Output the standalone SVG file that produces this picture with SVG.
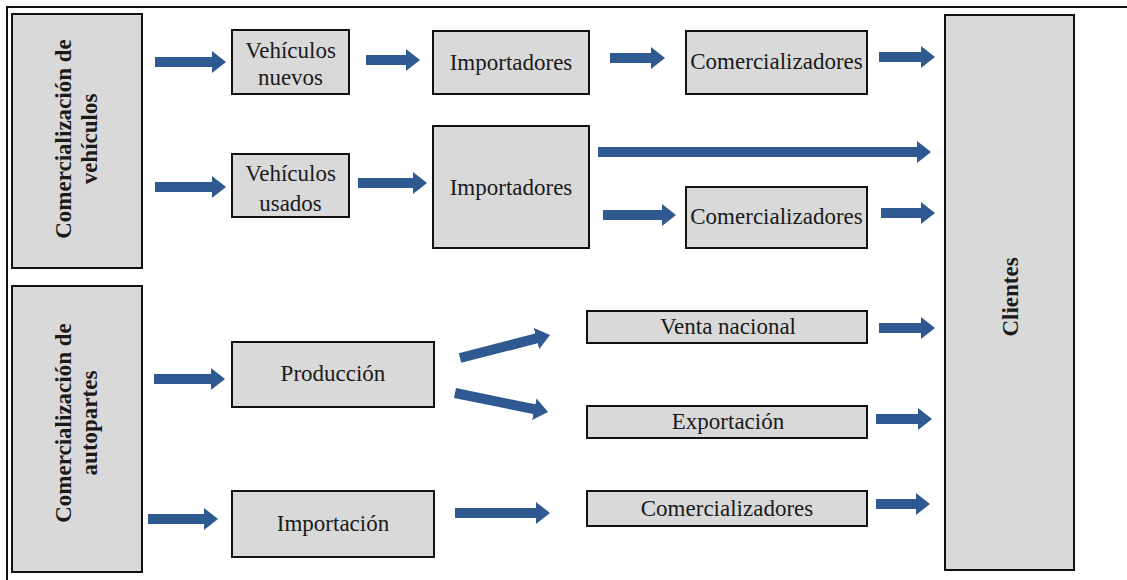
<svg xmlns="http://www.w3.org/2000/svg" width="1127" height="580" viewBox="0 0 1127 580">
  <defs>
    <style>
      .box { fill: #d9d9d9; stroke: #111; stroke-width: 2; }
      .lbl { font-family: "Liberation Serif", "Times New Roman", serif; font-size: 23px; fill: #1a1a1a; text-anchor: middle; }
      .vlbl { font-family: "Liberation Serif", "Times New Roman", serif; font-size: 23px; font-weight: bold; fill: #1a1a1a; text-anchor: middle; }
      .arrow { stroke: #2e5a91; stroke-width: 10; fill: none; marker-end: url(#head); }
      .frame { stroke: #111; stroke-width: 2; fill: none; }
    </style>
    <marker id="head" markerUnits="userSpaceOnUse" markerWidth="14" markerHeight="22" viewBox="0 0 14 22" refX="1" refY="11" orient="auto">
      <path d="M0,0 L14,11 L0,22 z" fill="#2e5a91"/>
    </marker>
  </defs>

  <rect width="1127" height="580" fill="#ffffff"/>

  <!-- outer frame (top and left edges) -->
  <path class="frame" d="M7,580 V7 H1127"/>

  <!-- left category boxes -->
  <g id="comercializacion-vehiculos">
    <rect class="box" x="12" y="14" width="130" height="254"/>
    <text class="vlbl" transform="translate(71,139) rotate(-90)">Comercialización de</text>
    <text class="vlbl" transform="translate(97,139) rotate(-90)">vehículos</text>
  </g>
  <g id="comercializacion-autopartes">
    <rect class="box" x="12" y="286" width="130" height="286"/>
    <text class="vlbl" transform="translate(71,423) rotate(-90)">Comercialización de</text>
    <text class="vlbl" transform="translate(97,423) rotate(-90)">autopartes</text>
  </g>

  <!-- vehicles branch -->
  <g id="vehiculos-nuevos">
    <rect class="box" x="232" y="30" width="117" height="64"/>
    <text class="lbl" x="290.5" y="58">Vehículos</text>
    <text class="lbl" x="290.5" y="85">nuevos</text>
  </g>
  <g id="vehiculos-usados">
    <rect class="box" x="232" y="154" width="117" height="63"/>
    <text class="lbl" x="290.5" y="181">Vehículos</text>
    <text class="lbl" x="290.5" y="211">usados</text>
  </g>
  <g id="importadores-1">
    <rect class="box" x="433" y="31" width="156" height="63"/>
    <text class="lbl" x="511" y="70">Importadores</text>
  </g>
  <g id="importadores-2">
    <rect class="box" x="433" y="126" width="156" height="122"/>
    <text class="lbl" x="511" y="195">Importadores</text>
  </g>
  <g id="comercializadores-1">
    <rect class="box" x="686" y="31" width="181" height="63"/>
    <text class="lbl" x="776.5" y="69">Comercializadores</text>
  </g>
  <g id="comercializadores-2">
    <rect class="box" x="686" y="187" width="181" height="61"/>
    <text class="lbl" x="776.5" y="224">Comercializadores</text>
  </g>

  <!-- auto parts branch -->
  <g id="produccion">
    <rect class="box" x="232" y="342" width="202" height="65"/>
    <text class="lbl" x="333" y="381">Producción</text>
  </g>
  <g id="importacion">
    <rect class="box" x="232" y="491" width="202" height="66"/>
    <text class="lbl" x="333" y="531">Importación</text>
  </g>
  <g id="venta-nacional">
    <rect class="box" x="587" y="311" width="280" height="32"/>
    <text class="lbl" x="728" y="334">Venta nacional</text>
  </g>
  <g id="exportacion">
    <rect class="box" x="587" y="406" width="280" height="32"/>
    <text class="lbl" x="728" y="429">Exportación</text>
  </g>
  <g id="comercializadores-3">
    <rect class="box" x="587" y="491" width="280" height="35"/>
    <text class="lbl" x="727" y="516">Comercializadores</text>
  </g>

  <!-- final destination -->
  <g id="clientes">
    <rect class="box" x="945" y="15" width="129" height="555"/>
    <text class="vlbl" font-size="25" transform="translate(1018,297) rotate(-90)">Clientes</text>
  </g>

  <!-- block arrows -->
  <g id="connectors">
    <line class="arrow" x1="155" y1="62" x2="213" y2="62"/>
    <line class="arrow" x1="155" y1="187" x2="213" y2="187"/>
    <line class="arrow" x1="366" y1="60" x2="407" y2="60"/>
    <line class="arrow" x1="358" y1="183" x2="414" y2="183"/>
    <line class="arrow" x1="610" y1="58" x2="652" y2="58"/>
    <line class="arrow" x1="598" y1="152" x2="918" y2="152" stroke-width="11"/>
    <line class="arrow" x1="603" y1="215" x2="663" y2="215"/>
    <line class="arrow" x1="879" y1="57" x2="922" y2="57"/>
    <line class="arrow" x1="881" y1="213" x2="922" y2="213"/>
    <line class="arrow" x1="879" y1="328" x2="922" y2="328"/>
    <line class="arrow" x1="876" y1="419" x2="919" y2="419"/>
    <line class="arrow" x1="876" y1="504" x2="917" y2="504"/>
    <line class="arrow" x1="154" y1="379" x2="212" y2="379"/>
    <line class="arrow" x1="148" y1="519" x2="205" y2="519"/>
    <line class="arrow" x1="455" y1="513" x2="537" y2="513"/>
    <line class="arrow" x1="460" y1="358" x2="537.4" y2="338.2"/>
    <line class="arrow" x1="455" y1="393" x2="535.3" y2="409.4"/>
  </g>
</svg>
